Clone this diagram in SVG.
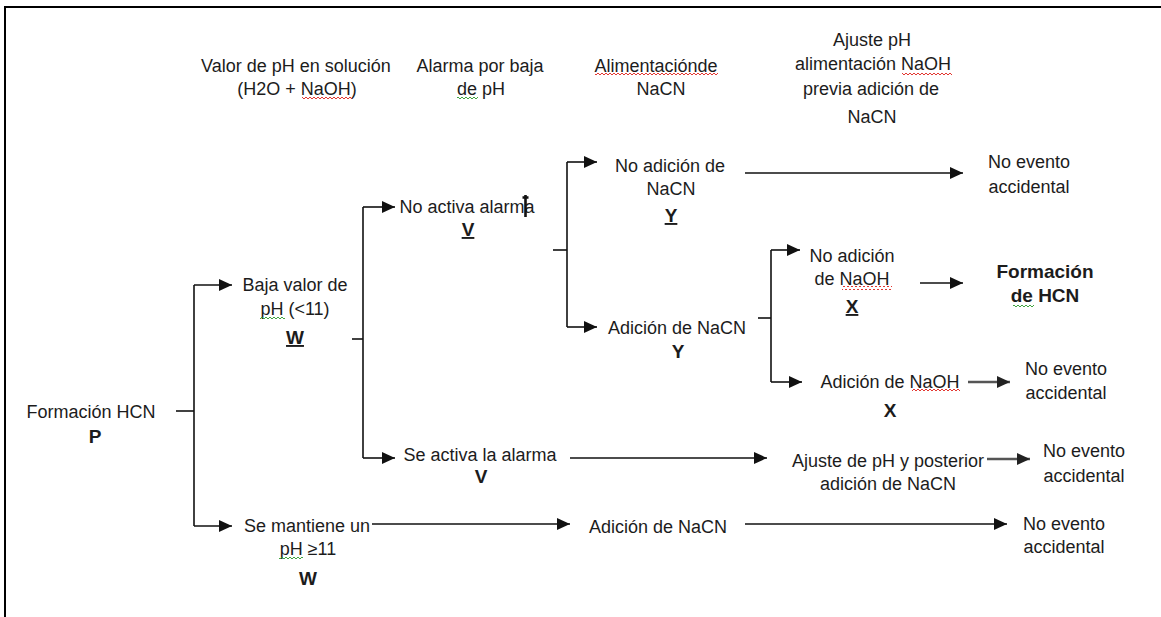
<svg xmlns="http://www.w3.org/2000/svg" width="1161" height="617" viewBox="0 0 1161 617">
  <defs>
    <marker id="arrow" markerUnits="userSpaceOnUse" markerWidth="13" markerHeight="12" refX="13" refY="6" orient="auto">
      <path d="M0,0 L13,6 L0,12 z" fill="#111"/>
    </marker>
    <marker id="arrow-grey" markerUnits="userSpaceOnUse" markerWidth="13" markerHeight="12" refX="13" refY="6" orient="auto">
      <path d="M0,0 L13,6 L0,12 z" fill="#222"/>
    </marker>
    <!-- spell-check style wavy underlines -->
    <pattern id="wave-red" width="4" height="4" patternUnits="userSpaceOnUse">
      <path d="M0,3 L2,1 L4,3" fill="none" stroke="#e0201a" stroke-width="0.9"/>
    </pattern>
    <pattern id="wave-green" width="4" height="4" patternUnits="userSpaceOnUse">
      <path d="M0,3 L2,1 L4,3" fill="none" stroke="#2a9a2a" stroke-width="0.9"/>
    </pattern>
  </defs>
  <style>
    text { font-family: "Liberation Sans", Arial, sans-serif; font-size: 18px; fill: #1c1c1c; text-anchor: middle; }
    text.b { font-weight: bold; font-size: 19px; }
    text.u { text-decoration: underline; }
    .conn line { stroke: #111; stroke-width: 1.6; fill: none; }
    .conn .arr { marker-end: url(#arrow); }
    .conn .grey { stroke: #555; stroke-width: 2.4; marker-end: url(#arrow-grey); }
    .frame { stroke: #000; stroke-width: 2; fill: none; }
  </style>

  <rect width="1161" height="617" fill="#fff"/>
  <path class="frame" d="M5,617 V7 H1161"/>

  <!-- column headings -->
  <g id="head-ph">
    <text x="296" y="72">Valor de pH en solución</text>
    <text x="297" y="95">(H2O + NaOH)</text>
    <rect x="302" y="96" width="50" height="4" fill="url(#wave-red)"/>
  </g>
  <g id="head-alarma">
    <text x="480" y="72">Alarma por baja</text>
    <text x="481" y="95">de pH</text>
    <rect x="457" y="96" width="21" height="4" fill="url(#wave-green)"/>
  </g>
  <g id="head-nacn">
    <text x="656" y="72">Alimentaciónde</text>
    <text x="661" y="95">NaCN</text>
    <rect x="595" y="73" width="123" height="4" fill="url(#wave-red)"/>
  </g>
  <g id="head-naoh">
    <text x="872" y="46">Ajuste pH</text>
    <text x="873" y="70">alimentación NaOH</text>
    <text x="871" y="95">previa adición de</text>
    <text x="872" y="123">NaCN</text>
    <rect x="902" y="72" width="50" height="4" fill="url(#wave-red)"/>
  </g>

  <!-- tree nodes -->
  <g id="node-p">
    <text x="91" y="418">Formación HCN</text>
    <text class="b" x="95" y="443">P</text>
  </g>
  <g id="node-w-low">
    <text x="295" y="291">Baja valor de</text>
    <text x="295" y="315">pH (&lt;11)</text>
    <rect x="260" y="315" width="25" height="4" fill="url(#wave-green)"/>
    <text class="b u" x="295" y="344">W</text>
  </g>
  <g id="node-w-keep">
    <text x="307" y="532">Se mantiene un</text>
    <text x="308" y="555">pH ≥11</text>
    <rect x="279" y="556" width="24" height="4" fill="url(#wave-green)"/>
    <text class="b" x="308" y="585">W</text>
  </g>
  <g id="node-v-no">
    <text x="467" y="213">No activa alarma</text>
    <path d="M525.5,195 V217 M522.5,197.5 H528.5" stroke="#111" stroke-width="2.6" fill="none"/>
    <text class="b u" x="468" y="236">V</text>
  </g>
  <g id="node-v-yes">
    <text x="480" y="461">Se activa la alarma</text>
    <text class="b" x="481" y="483">V</text>
  </g>
  <g id="node-y-no">
    <text x="670" y="172">No adición de</text>
    <text x="671" y="195">NaCN</text>
    <text class="b u" x="671" y="222">Y</text>
  </g>
  <g id="node-y-yes">
    <text x="677" y="334">Adición de NaCN</text>
    <text class="b" x="678" y="358">Y</text>
  </g>
  <g id="node-nacn-direct">
    <text x="658" y="533">Adición de NaCN</text>
  </g>
  <g id="node-x-no">
    <text x="852" y="262">No adición</text>
    <text x="852" y="285">de NaOH</text>
    <rect x="842" y="286" width="50" height="4" fill="url(#wave-red)"/>
    <text class="b u" x="852" y="313">X</text>
  </g>
  <g id="node-x-yes">
    <text x="890" y="388">Adición de NaOH</text>
    <rect x="912" y="389" width="48" height="4" fill="url(#wave-red)"/>
    <text class="b" x="890" y="417">X</text>
  </g>
  <g id="node-adjust">
    <text x="888" y="467">Ajuste de pH y posterior</text>
    <text x="888" y="490">adición de NaCN</text>
  </g>

  <!-- outcomes -->
  <g id="out-1">
    <text x="1029" y="168">No evento</text>
    <text x="1029" y="193">accidental</text>
  </g>
  <g id="out-hcn">
    <text class="b" x="1045" y="278">Formación</text>
    <text class="b" x="1045" y="302">de HCN</text>
    <rect x="1013" y="303" width="21" height="4" fill="url(#wave-green)"/>
  </g>
  <g id="out-2">
    <text x="1066" y="375">No evento</text>
    <text x="1066" y="399">accidental</text>
  </g>
  <g id="out-3">
    <text x="1084" y="457">No evento</text>
    <text x="1084" y="482">accidental</text>
  </g>
  <g id="out-4">
    <text x="1064" y="530">No evento</text>
    <text x="1064" y="553">accidental</text>
  </g>

  <!-- connectors -->
  <g id="connectors" class="conn">
    <line x1="176" y1="411" x2="194" y2="411"/>
    <line x1="194" y1="285" x2="194" y2="526"/>
    <line class="arr" x1="194" y1="285" x2="232" y2="285"/>
    <line class="arr" x1="194" y1="526" x2="232" y2="526"/>

    <line x1="352" y1="339" x2="363" y2="339"/>
    <line x1="363" y1="207" x2="363" y2="458"/>
    <line class="arr" x1="363" y1="207" x2="395" y2="207"/>
    <line class="arr" x1="363" y1="458" x2="395" y2="458"/>

    <line x1="553" y1="250" x2="567" y2="250"/>
    <line x1="567" y1="162" x2="567" y2="327"/>
    <line class="arr" x1="567" y1="162" x2="597" y2="162"/>
    <line class="arr" x1="567" y1="327" x2="597" y2="327"/>

    <line class="arr" x1="745" y1="173" x2="963" y2="173"/>

    <line x1="758" y1="318" x2="771" y2="318"/>
    <line x1="771" y1="250" x2="771" y2="382"/>
    <line class="arr" x1="771" y1="250" x2="800" y2="250"/>
    <line class="arr" x1="771" y1="382" x2="802" y2="382"/>

    <line class="arr" x1="920" y1="283" x2="963" y2="283"/>
    <line class="grey" x1="968" y1="382" x2="1010" y2="382"/>

    <line class="arr" x1="570" y1="458" x2="767" y2="458"/>
    <line class="grey" x1="987" y1="459" x2="1030" y2="459"/>

    <line class="arr" x1="372" y1="524" x2="570" y2="524"/>
    <line class="arr" x1="745" y1="524" x2="1007" y2="524"/>
  </g>
</svg>
